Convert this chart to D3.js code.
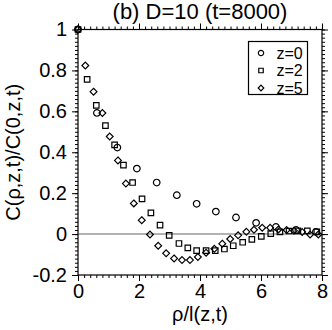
<!DOCTYPE html>
<html>
<head>
<meta charset="utf-8">
<script src="https://cdn.jsdelivr.net/npm/d3@7"></script>
<style>
  body { margin: 0; background: #fff; }
  text { font-family: "Liberation Sans", Arial, Helvetica, sans-serif; fill: #000; }
</style>
</head>
<body>
<svg id="root"></svg>
<script>
// values
const rhoZ0 = [0, 0.62, 1.29, 1.93, 2.58, 3.24, 3.89, 4.52, 5.18, 5.84, 6.49, 7.15, 7.8];
const cZ0 = [1, 0.592, 0.423, 0.320, 0.252, 0.190, 0.148, 0.110, 0.081, 0.055, 0.035, 0.020, 0.011];

const rhoZ2 = [0, 0.30, 0.60, 0.90, 1.20, 1.49, 1.79, 2.10, 2.39, 2.69, 2.99, 3.31, 3.60, 3.89,
  4.20, 4.50, 4.80, 5.09, 5.40, 5.70, 6.01, 6.32, 6.62, 6.92, 7.21, 7.52, 7.83];
const cZ2 = [1, 0.756, 0.629, 0.530, 0.436, 0.337, 0.252, 0.172, 0.104, 0.044, -0.006, -0.046,
  -0.067, -0.081, -0.081, -0.081, -0.073, -0.057, -0.040, -0.026, -0.011, 0.002, 0.011, 0.015,
  0.016, 0.016, 0.011];

const rhoZ5 = [0, 0.24, 0.51, 0.80, 1.04, 1.31, 1.57, 1.83, 2.09, 2.36, 2.63, 2.89, 3.15, 3.41,
  3.67, 3.93, 4.20, 4.47, 4.73, 4.99, 5.25, 5.52, 5.77, 6.04, 6.30, 6.57, 6.84, 7.08, 7.35, 7.61, 7.88];
const cZ5 = [1, 0.824, 0.696, 0.592, 0.477, 0.360, 0.247, 0.150, 0.068, -0.002, -0.057, -0.094,
  -0.119, -0.127, -0.127, -0.112, -0.091, -0.072, -0.047, -0.024, -0.006, 0.011, 0.021, 0.031,
  0.031, 0.023, 0.020, 0.016, 0.010, -0.002, -0.002];

const seriesNames = ["z=0", "z=2", "z=5"];
const xTicks = [0, 2, 4, 6, 8];
const yTicks = [-0.2, 0, 0.2, 0.4, 0.6, 0.8, 1];

const title = "(b) D=10 (t=8000)";
const xLabel = "ρ/l(z,t)";
const yLabel = "C(ρ,z,t)/C(0,z,t)";

const width = 332, height = 330;
const margin = { top: 29.5, right: 10, bottom: 55, left: 78 };
const iw = width - margin.left - margin.right;
const ih = height - margin.top - margin.bottom;

const svg = d3.select("#root").attr("width", width).attr("height", height);
const g = svg.append("g").attr("transform", `translate(${margin.left},${margin.top})`);

const x = d3.scaleLinear().domain([0, 8]).range([0, iw]);
const y = d3.scaleLinear().domain([-0.2, 1]).range([ih, 0]);

const fmt = (d) => String(+d.toFixed(1));
const xMinor = d3.range(0, 8.001, 0.2).map((d) => +d.toFixed(2));
const yMinor = d3.range(-0.2, 1.001, 0.02).map((d) => +d.toFixed(3));

function styleAxis(sel) {
  sel.select(".domain").remove();
  sel.selectAll("line").attr("stroke", "#000").attr("stroke-width", 1);
}

// minor ticks, all four sides
g.append("g").attr("transform", `translate(0,${ih})`)
  .call(d3.axisBottom(x).tickValues(xMinor).tickSize(3).tickFormat(""))
  .call(styleAxis);
g.append("g")
  .call(d3.axisTop(x).tickValues(xMinor).tickSize(3).tickFormat(""))
  .call(styleAxis);
g.append("g")
  .call(d3.axisLeft(y).tickValues(yMinor).tickSize(3).tickFormat(""))
  .call(styleAxis);
g.append("g").attr("transform", `translate(${iw},0)`)
  .call(d3.axisRight(y).tickValues(yMinor).tickSize(3).tickFormat(""))
  .call(styleAxis);

// major ticks
g.append("g").attr("transform", `translate(0,${ih})`)
  .call(d3.axisBottom(x).tickValues(xTicks).tickSize(6).tickPadding(3).tickFormat(fmt))
  .call(styleAxis)
  .call((a) => a.selectAll("text").attr("font-size", 20)
    .attr("font-family", "Liberation Sans, Arial, sans-serif"));
g.append("g")
  .call(d3.axisTop(x).tickValues(xTicks).tickSize(6).tickFormat(""))
  .call(styleAxis);
g.append("g")
  .call(d3.axisLeft(y).tickValues(yTicks).tickSize(6).tickPadding(5).tickFormat(fmt))
  .call(styleAxis)
  .call((a) => a.selectAll("text").attr("font-size", 20)
    .attr("font-family", "Liberation Sans, Arial, sans-serif"));
g.append("g").attr("transform", `translate(${iw},0)`)
  .call(d3.axisRight(y).tickValues(yTicks).tickSize(6).tickFormat(""))
  .call(styleAxis);

// zero line
g.append("line")
  .attr("x1", x(0)).attr("x2", x(8))
  .attr("y1", y(0)).attr("y2", y(0))
  .attr("stroke", "#999").attr("stroke-width", 1.5);

// frame
g.append("rect")
  .attr("width", iw).attr("height", ih)
  .attr("fill", "none").attr("stroke", "#000").attr("stroke-width", 1.2);

// markers: circle, square, rotated square (diamond)
const rhombus = (r) => `M0,${-r}L${r},0L0,${r}L${-r},0Z`;
const symbols = [
  d3.symbol().type(d3.symbolCircle).size(34),
  d3.symbol().type(d3.symbolSquare).size(30),
  () => rhombus(3.4),
];
const legendSymbols = [
  d3.symbol().type(d3.symbolCircle).size(22),
  d3.symbol().type(d3.symbolSquare).size(20),
  () => rhombus(2.8),
];

const series = [
  { name: seriesNames[0], xs: rhoZ0, ys: cZ0 },
  { name: seriesNames[1], xs: rhoZ2, ys: cZ2 },
  { name: seriesNames[2], xs: rhoZ5, ys: cZ5 },
];

series.forEach((s, k) => {
  g.append("g")
    .selectAll("path")
    .data(s.xs.map((v, i) => [v, s.ys[i]]))
    .enter()
    .append("path")
    .attr("d", symbols[k])
    .attr("transform", (d) => `translate(${x(d[0])},${y(d[1])})`)
    .attr("fill", "none")
    .attr("stroke", "#000")
    .attr("stroke-width", 1.2);
});

// legend
const lg = svg.append("g").attr("transform", "translate(248.5,41.5)");
lg.append("rect").attr("width", 59).attr("height", 53)
  .attr("fill", "#fff").attr("stroke", "#000").attr("stroke-width", 1.2);
series.forEach((s, k) => {
  const row = lg.append("g").attr("transform", `translate(0,${11.5 + k * 17.5})`);
  row.append("path").attr("d", legendSymbols[k])
    .attr("transform", "translate(12.5,0)")
    .attr("fill", "none").attr("stroke", "#000").attr("stroke-width", 1.2);
  row.append("text").attr("x", 28).attr("y", 5.5)
    .attr("font-size", 16).text(s.name);
});

// title and axis labels
svg.append("text")
  .attr("x", margin.left + iw / 2).attr("y", 19)
  .attr("text-anchor", "middle").attr("font-size", 22)
  .text(title);

svg.append("text")
  .attr("x", margin.left + iw / 2).attr("y", 321)
  .attr("text-anchor", "middle").attr("font-size", 20)
  .text(xLabel);

svg.append("text")
  .attr("transform", `translate(20,${margin.top + ih / 2}) rotate(-90)`)
  .attr("text-anchor", "middle").attr("font-size", 20)
  .text(yLabel);
</script>
</body>
</html>
